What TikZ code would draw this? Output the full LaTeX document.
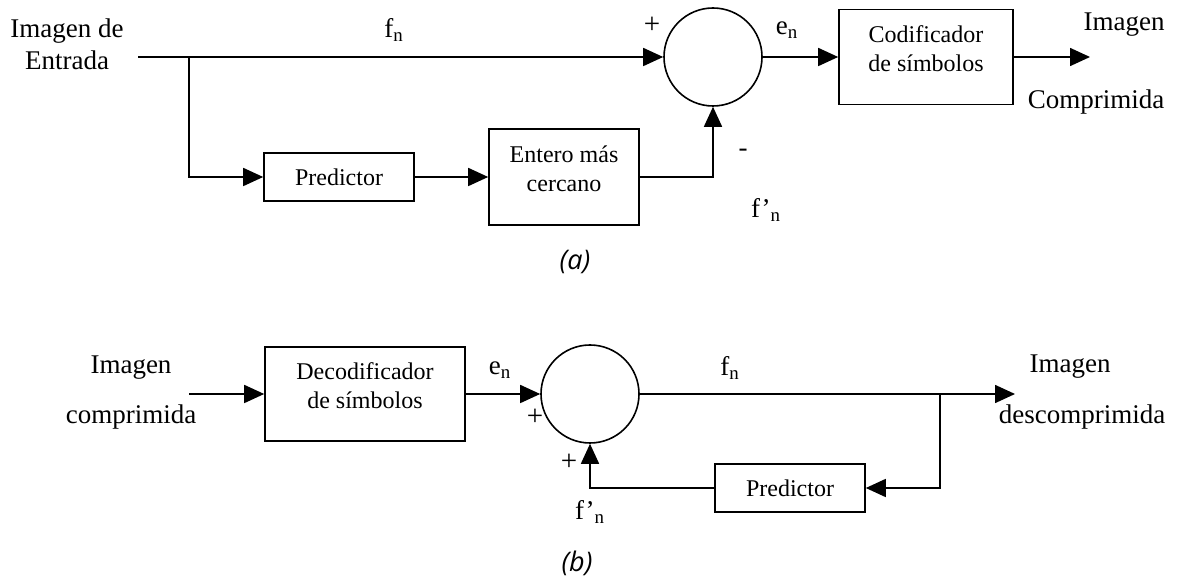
\documentclass[tikz,border=0pt]{standalone}
\usepackage{fontspec}
\setmainfont{Liberation Serif}
\newfontfamily\capfont{Open Sans}
\usetikzlibrary{arrows.meta}
\usetikzlibrary{calc}
\usetikzlibrary{positioning}

\begin{document}
\begin{tikzpicture}[x=0.5pt,y=-0.5pt,line width=0.8pt,
    >={Triangle[length=10pt,width=9pt]},
    lbl/.style={inner sep=0pt,align=center,font=\fontsize{13.5}{16}\selectfont},
    sgn/.style={inner sep=0pt,font=\fontsize{14.5}{16}\selectfont},
    blktxt/.style={inner sep=0pt,align=center,font=\fontsize{12}{14.5}\selectfont},
    blk/.style={draw,rectangle,inner sep=0pt,minimum width=#1},
    sum/.style={draw,circle,inner sep=0pt,minimum size=49pt},
    figcap/.style={inner sep=0pt,font=\capfont\itshape\fontsize{13.5}{15}\selectfont}]

  \useasboundingbox (0,0) rectangle (1181,581);

  % (a)
  \node [lbl] (inA) at (67,44) {Imagen de\\Entrada};
  \coordinate (srcA) at (138,57);
  \coordinate (brA) at (189,57);
  \node [sum] (sumA) at (713,57) {};
  \node [blk=87pt,minimum height=47.5pt] (cod) at (926,57) {};
  \node [blktxt] (codtxt) at ($(cod.center)+(0,-8)$) {Codificador\\de símbolos};
  \node [blk=75pt,minimum height=24pt,font=\fontsize{12}{14.5}\selectfont] (predA) at (339,177) {Predictor};
  \node [blk=75pt,minimum height=48pt] (ent) at (564,177) {};
  \node [blktxt] (enttxt) at ($(ent.center)+(0,-8)$) {Entero más\\cercano};
  \coordinate (outA) at (1090,57);

  \node [lbl] (fA) at (394,30) {f\textsubscript{n}};
  \node [sgn] (plusA) at (652,25) {+};
  \node [lbl] (eA) at (787,30) {e\textsubscript{n}};
  \node [lbl] (minusA) at (743,153) {-};
  \node [lbl] (fpA) at (766,210) {f’\textsubscript{n}};
  \node [lbl] (outA1) at (1124,25) {Imagen};
  \node [lbl] (outA2) at (1096,102) {Comprimida};
  \node [figcap] (capA) at (575,262) {(a)};

  \path [->]
    (srcA)       edge (sumA.west)
    (sumA.east)  edge (cod.west)
    (cod.east)   edge (outA)
    (predA.east) edge (ent.west);
  \draw [->] (brA) |- (predA.west);
  \draw [->] (ent.east) -| (sumA.south);

  % (b)
  \node [lbl] (inB) at (131,393) {Imagen\\[9pt]comprimida};
  \coordinate (srcB) at (189,394);
  \node [blk=100pt,minimum height=47pt] (dec) at (365,394) {};
  \node [blktxt] (dectxt) at ($(dec.center)+(0,-8)$) {Decodificador\\de símbolos};
  \node [sum] (sumB) at (590,394) {};
  \node [blk=75pt,minimum height=24pt,font=\fontsize{12}{14.5}\selectfont] (predB) at (790,488) {Predictor};
  \coordinate (brB) at (940,394);
  \coordinate (outB) at (1015,394);

  \node [lbl] (eB) at (500,370) {e\textsubscript{n}};
  \node [sgn] (plusB1) at (535,417) {+};
  \node [sgn] (plusB2) at (569,462) {+};
  \node [lbl] (fpB) at (590,512) {f’\textsubscript{n}};
  \node [lbl] (fB) at (730,368) {f\textsubscript{n}};
  \node [lbl] (outB1) at (1070,367) {Imagen};
  \node [lbl] (outB2) at (1082,417) {descomprimida};
  \node [figcap] (capB) at (577,563) {(b)};

  \path [->]
    (srcB)      edge (dec.west)
    (dec.east)  edge (sumB.west)
    (sumB.east) edge (outB);
  \draw [->] (brB) |- (predB.east);
  \draw [->] (predB.west) -| (sumB.south);

\end{tikzpicture}
\end{document}
